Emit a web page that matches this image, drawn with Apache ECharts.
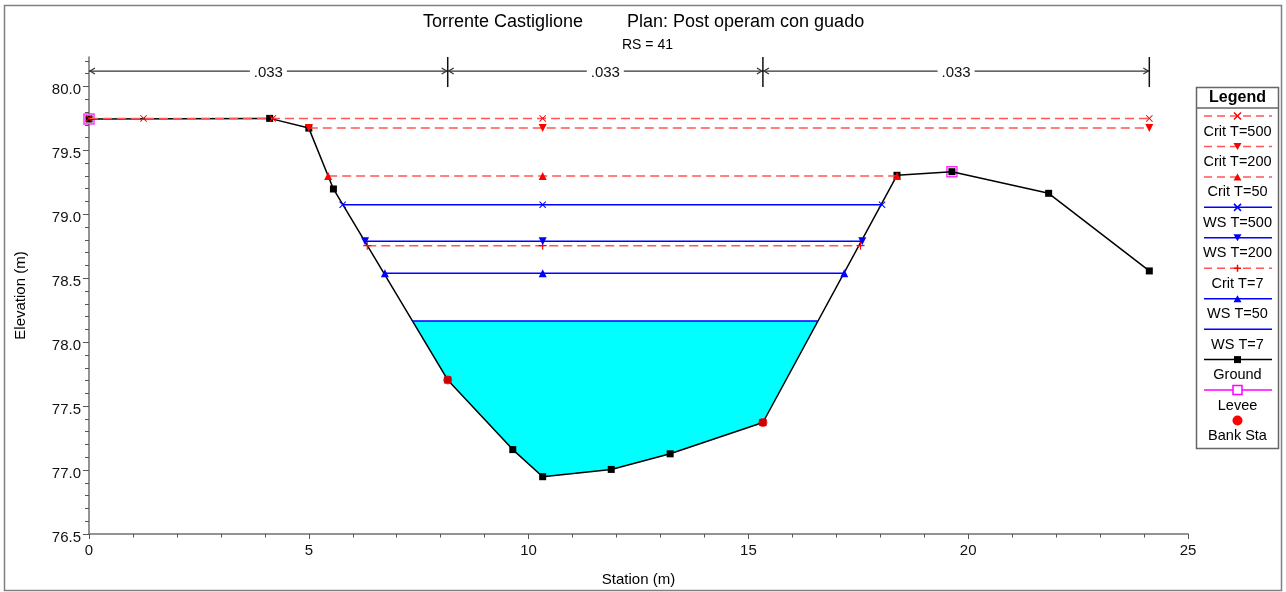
<!DOCTYPE html>
<html>
<head>
<meta charset="utf-8">
<script src="https://cdn.jsdelivr.net/npm/echarts@6/dist/echarts.min.js"></script>
<style>
  html, body { margin: 0; padding: 0; background: #fff; }
  #chart { width: 1286px; height: 592px; }
</style>
</head>
<body>
<div id="chart"></div>
<script>
// ground profile (station, elevation)
const groundX = [0, 4.11, 5.0, 5.56, 8.16, 9.64, 10.32, 11.88, 13.22, 15.33, 18.38, 19.63, 21.83, 24.12];
const groundY = [79.745, 79.75, 79.674, 79.198, 77.705, 77.16, 76.948, 77.005, 77.127, 77.372, 79.305, 79.333, 79.164, 78.557];

const leveeX = [0, 19.63];
const leveeY = [79.745, 79.333];
const bankX = [8.16, 15.33];
const bankY = [77.705, 77.372];

// water surfaces: level + stations where markers sit
const crit500 = { y: 79.75, x: [0, 1.24, 4.18, 10.32, 24.12] };
const crit200 = { y: 79.674, x: [5.0, 10.32, 24.12] };
const crit50  = { y: 79.30, x: [5.44, 10.32, 18.38] };
const ws500   = { y: 79.075, x: [5.77, 10.32, 18.04] };
const ws200   = { y: 78.789, x: [6.28, 10.32, 17.59] };
const crit7   = { y: 78.755, x: [6.33, 10.32, 17.55] };
const ws50    = { y: 78.539, x: [6.73, 10.32, 17.18] };
const ws7     = { y: 78.166, x: [7.36, 16.58] };

// Manning's n blocks
const nBreaks = [0, 8.16, 15.33, 24.12];
const nValues = ['.033', '.033', '.033'];

const yLabels = [76.5, 77.0, 77.5, 78.0, 78.5, 79.0, 79.5, 80.0];
const yMin = 76.5, yMax = 80.23;
const nLevel = 80.12;

const FONT = '"Liberation Sans", Arial, sans-serif';
const RED = '#ff0000', RED_DASH = '#ff5555', BLUE = '#0000ff';

// minor tick positions, every 0.1 m
const yMinor = [];
for (let v = 766; v <= 802; v++) if (v % 5) yMinor.push(v / 10);

const SYM = {
  x: 'path://M0,1L1,0L5,4L9,0L10,1L6,5L10,9L9,10L5,6L1,10L0,9L4,5Z',
  plus: 'path://M4.3,0L5.7,0L5.7,4.3L10,4.3L10,5.7L5.7,5.7L5.7,10L4.3,10L4.3,5.7L0,5.7L0,4.3L4.3,4.3Z',
  tdown: 'path://M0,0L10,0L5,9Z',
  tup: 'path://M5,0L10,9L0,9Z'
};

// polygon of the T=7 water area, between the surface and the ground
const fillPts = [[ws7.x[0], ws7.y]];
groundX.forEach((x, i) => { if (x > ws7.x[0] && x < ws7.x[1]) fillPts.push([x, groundY[i]]); });
fillPts.push([ws7.x[1], ws7.y]);

function wsLine(name, ws, color, dashed, symbol, size, z){
  return {
    type: 'line', name, z,
    data: ws.x.map(x => [x, ws.y]),
    symbol: symbol || 'none', symbolSize: size || 7, showAllSymbol: true,
    lineStyle: { color: dashed ? RED_DASH : color, width: 1.5, type: dashed ? [9, 5] : 'solid' },
    itemStyle: { color }
  };
}

const legendItems = [
  { name: 'Crit T=500', color: RED, dash: true, sym: 'x' },
  { name: 'Crit T=200', color: RED, dash: true, sym: 'tdown' },
  { name: 'Crit T=50', color: RED, dash: true, sym: 'tup' },
  { name: 'WS T=500', color: BLUE, sym: 'x' },
  { name: 'WS T=200', color: BLUE, sym: 'tdown' },
  { name: 'Crit T=7', color: RED, dash: true, sym: 'plus' },
  { name: 'WS T=50', color: BLUE, sym: 'tup' },
  { name: 'WS T=7', color: BLUE, sym: null },
  { name: 'Ground', color: '#000', sym: 'rect' },
  { name: 'Levee', color: '#ff00ff', sym: 'emptyRect' },
  { name: 'Bank Sta', color: RED, sym: 'circle', noLine: true }
];

function legendSymbol(kind, cx, cy, color){
  const s = 3.5;
  switch (kind) {
    case 'x': return [
      { type: 'line', shape: { x1: cx - s, y1: cy - s, x2: cx + s, y2: cy + s }, style: { stroke: color, lineWidth: 1.5 } },
      { type: 'line', shape: { x1: cx - s, y1: cy + s, x2: cx + s, y2: cy - s }, style: { stroke: color, lineWidth: 1.5 } }];
    case 'plus': return [
      { type: 'line', shape: { x1: cx - s, y1: cy, x2: cx + s, y2: cy }, style: { stroke: color, lineWidth: 1.5 } },
      { type: 'line', shape: { x1: cx, y1: cy - s, x2: cx, y2: cy + s }, style: { stroke: color, lineWidth: 1.5 } }];
    case 'tdown': return [{ type: 'polygon', shape: { points: [[cx - 4, cy - 3.5], [cx + 4, cy - 3.5], [cx, cy + 3.5]] }, style: { fill: color } }];
    case 'tup': return [{ type: 'polygon', shape: { points: [[cx - 4, cy + 3.5], [cx + 4, cy + 3.5], [cx, cy - 3.5]] }, style: { fill: color } }];
    case 'rect': return [{ type: 'rect', shape: { x: cx - 3.5, y: cy - 3.5, width: 7, height: 7 }, style: { fill: color } }];
    case 'emptyRect': return [{ type: 'rect', shape: { x: cx - 4.5, y: cy - 4.5, width: 9, height: 9 }, style: { fill: '#fff', stroke: color, lineWidth: 1.5 } }];
    case 'circle': return [{ type: 'circle', shape: { cx, cy, r: 5 }, style: { fill: color } }];
  }
  return [];
}

function buildLegend(){
  const left = 1196.5, right = 1278.5, top = 87.5, bottom = 448.5;
  const cx = (left + right) / 2;
  const els = [
    { type: 'rect', shape: { x: left, y: top, width: right - left, height: bottom - top }, style: { fill: '#fff', stroke: '#666', lineWidth: 1.5 } },
    { type: 'line', shape: { x1: left, y1: 108, x2: right, y2: 108 }, style: { stroke: '#666', lineWidth: 1.5 } },
    { type: 'text', x: cx, y: 98, style: { text: 'Legend', align: 'center', verticalAlign: 'middle', fontFamily: FONT, fontSize: 16, fontWeight: 'bold', fill: '#000' } }
  ];
  legendItems.forEach((it, i) => {
    const ly = 116 + 30.45 * i;
    if (!it.noLine) {
      els.push({ type: 'line', shape: { x1: 1204, y1: ly, x2: 1272, y2: ly },
        style: { stroke: it.dash ? RED_DASH : it.color, lineWidth: 1.5, lineDash: it.dash ? [8, 5] : null } });
    }
    els.push(...legendSymbol(it.sym, cx, ly, it.color));
    els.push({ type: 'text', x: cx, y: ly + 15.5, style: { text: it.name, align: 'center', verticalAlign: 'middle', fontFamily: FONT, fontSize: 14.5, fill: '#000' } });
  });
  return { type: 'group', children: els, z: 100 };
}

const chart = echarts.init(document.getElementById('chart'), null, { renderer: 'canvas' });

chart.setOption({
  animation: false,
  backgroundColor: '#fff',
  textStyle: { fontFamily: FONT },
  title: [
    { text: 'Torrente Castiglione', left: 423, top: 13, padding: 0, textStyle: { fontSize: 18, fontWeight: 'normal', color: '#000', fontFamily: FONT } },
    { text: 'Plan: Post operam con guado', left: 627, top: 13, padding: 0, textStyle: { fontSize: 18, fontWeight: 'normal', color: '#000', fontFamily: FONT } },
    { text: 'RS = 41', left: 622, top: 38, padding: 0, textStyle: { fontSize: 14, fontWeight: 'normal', color: '#000', fontFamily: FONT } }
  ],
  grid: { left: 89, right: 98, top: 57, bottom: 58, containLabel: false, outerBoundsMode: 'none' },
  xAxis: {
    type: 'value', min: 0, max: 25, interval: 5,
    name: 'Station (m)', nameLocation: 'middle', nameGap: 38,
    nameTextStyle: { fontSize: 15, color: '#000', fontFamily: FONT },
    axisLine: { lineStyle: { color: '#707070', width: 1.5 } },
    axisTick: { length: 5, lineStyle: { color: '#555' } },
    minorTick: { show: true, splitNumber: 5, length: 3.5, lineStyle: { color: '#555' } },
    axisLabel: { fontSize: 15, color: '#111', margin: 9 },
    splitLine: { show: false }
  },
  yAxis: [{
    type: 'value', min: yMin, max: yMax,
    name: 'Elevation (m)', nameLocation: 'middle', nameGap: 61,
    nameTextStyle: { fontSize: 15, color: '#000', fontFamily: FONT },
    axisLine: { show: true, lineStyle: { color: '#707070', width: 1.5 } },
    axisTick: { show: true, length: 6, customValues: yLabels, lineStyle: { color: '#555' } },
    axisLabel: {
      fontSize: 15, color: '#111', margin: 8, verticalAlign: 'top', lineHeight: 7,
      customValues: yLabels, formatter: v => v.toFixed(1)
    },
    splitLine: { show: false }
  }, {
    type: 'value', min: yMin, max: yMax, position: 'left', offset: 0,
    axisLine: { show: false },
    axisTick: { show: true, length: 4, customValues: yMinor, lineStyle: { color: '#555' } },
    axisLabel: { show: false },
    splitLine: { show: false }
  }],
  graphic: [
    { type: 'rect', shape: { x: 4.5, y: 5.5, width: 1277, height: 585 }, style: { fill: 'none', stroke: '#808080', lineWidth: 1.5 }, silent: true },
    buildLegend()
  ],
  series: [
    {
      type: 'custom', name: 'fill', z: 1, clip: false,
      data: fillPts,
      encode: { x: 0, y: 1 },
      renderItem: (params, api) => {
        if (params.dataIndex !== 0) return;
        return { type: 'polygon', shape: { points: fillPts.map(p => api.coord(p)) }, style: { fill: '#00ffff' } };
      }
    },
    {
      type: 'custom', name: 'n values', z: 2, clip: false,
      data: nValues.map((v, i) => [nBreaks[i], nBreaks[i + 1], nLevel]),
      encode: { x: [0, 1], y: 2 },
      renderItem: (params, api) => {
        const a = api.coord([api.value(0), api.value(2)]);
        const b = api.coord([api.value(1), api.value(2)]);
        const t0 = api.coord([api.value(1), 79.995]);
        const t1 = api.coord([api.value(1), yMax]);
        const mid = (a[0] + b[0]) / 2, gap = 18.5, y = a[1];
        const st = { stroke: '#333', lineWidth: 1.2, fill: null };
        return { type: 'group', children: [
          { type: 'line', shape: { x1: a[0], y1: y, x2: mid - gap, y2: y }, style: st },
          { type: 'line', shape: { x1: mid + gap, y1: y, x2: b[0], y2: y }, style: st },
          { type: 'polyline', shape: { points: [[a[0] + 6, y - 3], [a[0] + 1, y], [a[0] + 6, y + 3]] }, style: st },
          { type: 'polyline', shape: { points: [[b[0] - 6, y - 3], [b[0] - 1, y], [b[0] - 6, y + 3]] }, style: st },
          { type: 'line', shape: { x1: t0[0], y1: t0[1], x2: t1[0], y2: t1[1] }, style: { stroke: '#111', lineWidth: 1.5 } },
          { type: 'text', x: mid, y: y + 2, style: { text: nValues[params.dataIndex], align: 'center', verticalAlign: 'middle', fontFamily: FONT, fontSize: 15, fill: '#111' } }
        ] };
      }
    },
    {
      type: 'scatter', name: 'Levee', z: 3,
      data: leveeX.map((x, i) => [x, leveeY[i]]),
      symbol: 'rect', symbolSize: 10,
      itemStyle: { color: '#fff', borderColor: '#ff00ff', borderWidth: 1.5 }
    },
    {
      type: 'line', name: 'Ground', z: 4,
      data: groundX.map((x, i) => [x, groundY[i]]),
      symbol: 'rect', symbolSize: 7, showAllSymbol: true,
      lineStyle: { color: '#000', width: 1.5 },
      itemStyle: { color: '#000' }
    },
    wsLine('WS T=7', ws7, BLUE, false, 'none', 0, 5),
    wsLine('WS T=50', ws50, BLUE, false, SYM.tup, 8, 5),
    wsLine('Crit T=7', crit7, RED, true, SYM.plus, 8, 5),
    wsLine('WS T=200', ws200, BLUE, false, SYM.tdown, 8, 5),
    wsLine('WS T=500', ws500, BLUE, false, SYM.x, 7, 5),
    wsLine('Crit T=50', crit50, RED, true, SYM.tup, 8, 5),
    wsLine('Crit T=200', crit200, RED, true, SYM.tdown, 8, 5),
    wsLine('Crit T=500', crit500, RED, true, SYM.x, 7, 5),
    {
      type: 'scatter', name: 'Bank Sta', z: 6,
      data: bankX.map((x, i) => [x, bankY[i]]),
      symbol: 'circle', symbolSize: 9,
      itemStyle: { color: RED }
    }
  ]
});
</script>
</body>
</html>
